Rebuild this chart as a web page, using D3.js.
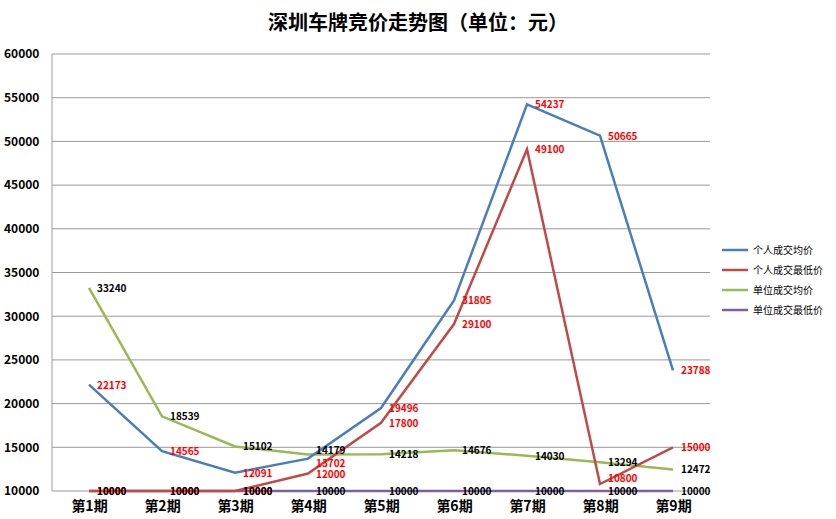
<!DOCTYPE html>
<html><head><meta charset="utf-8">
<script src="https://cdn.jsdelivr.net/npm/d3@7"></script>
<style>body{margin:0;background:#fff}text{font-family:"Noto Sans CJK SC","DejaVu Sans",sans-serif}</style>
</head><body><svg id="chart"></svg>
<script>
const periods = ["第1期","第2期","第3期","第4期","第5期","第6期","第7期","第8期","第9期"];
const personalAvg = [22173,14565,12091,13702,19496,31805,54237,50665,23788];
const personalMin = [10000,10000,10000,12000,17800,29100,49100,10800,15000];
const unitAvg = [33240,18539,15102,14179,14218,14676,14030,13294,12472];
const unitMin = [10000,10000,10000,10000,10000,10000,10000,10000,10000];
const yTicks = [10000,15000,20000,25000,30000,35000,40000,45000,50000,55000,60000];

const w = 836, h = 519;
const svg = d3.select("#chart").attr("width", w).attr("height", h);

// 图表区
const x = d3.scalePoint().domain(periods).range([89, 673]);
const y = d3.scaleLinear().domain([10000, 60000]).range([491, 54]);

svg.append("text").attr("x", 418).attr("y", 30).attr("text-anchor", "middle")
	.attr("font-size", 20).attr("font-weight", "bold").text("深圳车牌竞价走势图（单位：元）");

// 网格线
svg.selectAll(".grid").data(yTicks).enter().append("line")
	.attr("x1", 52).attr("x2", 710)
	.attr("y1", d => y(d)).attr("y2", d => y(d))
	.attr("stroke", "#999").attr("stroke-width", 1);
svg.append("line").attr("x1", 52).attr("x2", 52).attr("y1", 54).attr("y2", 491).attr("stroke", "#999");

const yAxis = svg.append("g").attr("transform", "translate(52,0)")
	.call(d3.axisLeft(y).tickValues(yTicks).tickSize(0).tickPadding(10).tickFormat(d3.format("d")));
yAxis.select(".domain").remove();
yAxis.selectAll("text").attr("font-size", 12).attr("font-weight", "bold").attr("fill", "#000")
	.attr("text-anchor", "start").attr("x", -48);

const xAxis = svg.append("g").attr("transform", "translate(0,491)")
	.call(d3.axisBottom(x).tickSize(0).tickPadding(10));
xAxis.select(".domain").remove();
xAxis.selectAll("text").attr("font-size", 14).attr("font-weight", "bold").attr("fill", "#000");

const series = [
	{name: "个人成交均价", data: personalAvg, color: "#4a7ebb", label: "#f00", dy: [4,4,4,8,4,4,4,4,4]},
	{name: "个人成交最低价", data: personalMin, color: "#be4b48", label: "#f00", dy: [4,4,4,4,4,4,4,-2,4]},
	{name: "单位成交均价", data: unitAvg, color: "#98b954", label: "#000", dy: [4,4,4,0,4,4,4,4,4]},
	{name: "单位成交最低价", data: unitMin, color: "#7d60a0", label: "#000", dy: [4,4,4,4,4,4,4,4,4]}
];

const line = d3.line().x((d, i) => x(periods[i])).y(d => y(d));
series.slice().reverse().forEach(s => {
	svg.append("path").datum(s.data).attr("d", line)
		.attr("fill", "none").attr("stroke", s.color).attr("stroke-width", 2.5);
});
series.forEach(s => {
	svg.selectAll(null).data(s.data).enter().append("text")
		.attr("x", (d, i) => x(periods[i]) + 8).attr("y", (d, i) => y(d) + s.dy[i])
		.attr("font-size", 10).attr("font-weight", "bold").attr("fill", s.label)
		.text(d => d);
});

// 图例
const legend = svg.append("g").attr("transform", "translate(722,250)");
series.forEach((s, i) => {
	legend.append("line").attr("x1", 0).attr("x2", 26).attr("y1", i * 20).attr("y2", i * 20)
		.attr("stroke", s.color).attr("stroke-width", 2.5);
	legend.append("text").attr("x", 31).attr("y", i * 20 + 4).attr("font-size", 10).text(s.name);
});
</script></body></html>
